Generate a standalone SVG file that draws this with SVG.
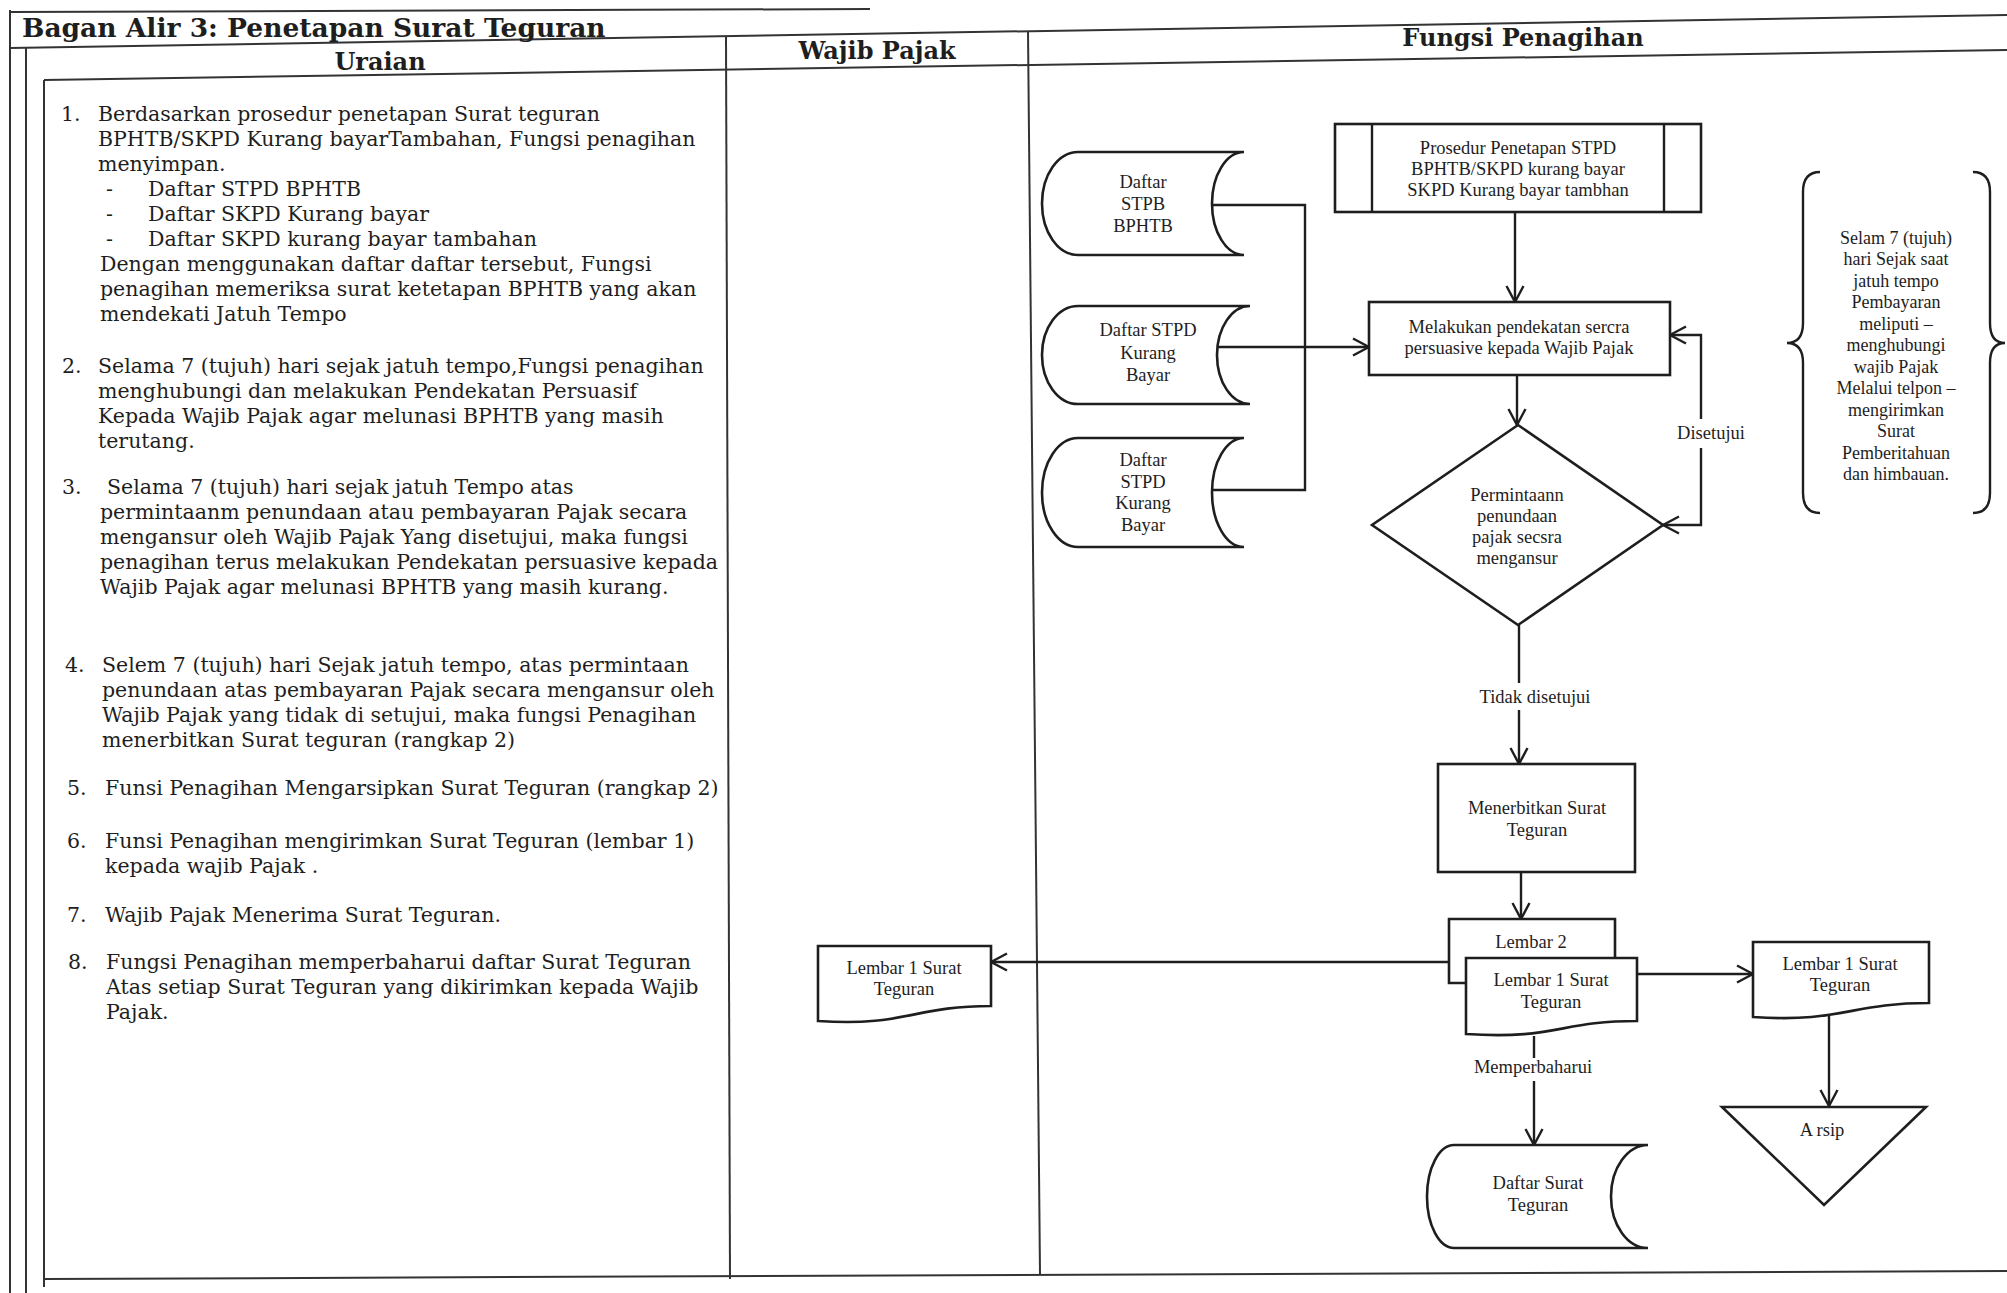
<svg xmlns="http://www.w3.org/2000/svg" width="2007" height="1293" viewBox="0 0 2007 1293">
<style>
.frame{stroke:#333;stroke-width:2;fill:none}
.hdr{font-family:"DejaVu Serif","Liberation Serif",serif;font-weight:bold;font-size:24px;fill:#1e1e1e}
.title{font-size:26.5px}
.body{font-family:"DejaVu Serif","Liberation Serif",serif;font-size:20.5px;fill:#1e1e1e}
.shape{fill:#fff;stroke:#1e1e1e;stroke-width:2.6}
.lbl{font-family:"Liberation Serif","Times New Roman",serif;font-size:18.5px;fill:#1e1e1e;text-anchor:middle}
.note{font-size:18px}
.conn{fill:none;stroke:#1e1e1e;stroke-width:2.4}
</style>
<defs>
<marker id="arr" viewBox="0 0 20 20" refX="18" refY="10" markerWidth="20" markerHeight="20" markerUnits="userSpaceOnUse" orient="auto">
<path d="M2,1.5 L18,10 L2,18.5" fill="none" stroke="#1e1e1e" stroke-width="2.4"/>
</marker>
</defs>
<rect width="2007" height="1293" fill="#fff"/>

<g id="frame">
<line class="frame" x1="10" y1="12" x2="870" y2="9"/>
<line class="frame" x1="10" y1="48" x2="2007" y2="15"/>
<line class="frame" x1="44" y1="80" x2="2007" y2="50"/>
<line class="frame" x1="10" y1="10" x2="10" y2="1293"/>
<line class="frame" x1="26" y1="48" x2="26" y2="1293"/>
<line class="frame" x1="44" y1="80" x2="44" y2="1287"/>
<line class="frame" x1="726" y1="37" x2="730" y2="1279"/>
<line class="frame" x1="1028" y1="31" x2="1040" y2="1274"/>
<line class="frame" x1="44" y1="1279" x2="2007" y2="1271"/>
<text class="hdr title" x="22" y="37">Bagan Alir 3: Penetapan Surat Teguran</text>
<text class="hdr" x="380" y="70" text-anchor="middle">Uraian</text>
<text class="hdr" x="877" y="59" text-anchor="middle">Wajib Pajak</text>
<text class="hdr" x="1523" y="46" text-anchor="middle">Fungsi Penagihan</text>
</g>

<g id="uraian" class="body">
<text x="61" y="121">1.</text>
<text x="98" y="121">Berdasarkan prosedur penetapan Surat teguran</text>
<text x="98" y="146">BPHTB/SKPD Kurang bayarTambahan, Fungsi penagihan</text>
<text x="98" y="171">menyimpan.</text>
<text x="106" y="196">-</text><text x="148" y="196">Daftar STPD BPHTB</text>
<text x="106" y="221">-</text><text x="148" y="221">Daftar SKPD Kurang bayar</text>
<text x="106" y="246">-</text><text x="148" y="246">Daftar SKPD kurang bayar tambahan</text>
<text x="100" y="271">Dengan menggunakan daftar daftar tersebut, Fungsi</text>
<text x="100" y="296">penagihan memeriksa surat ketetapan BPHTB yang akan</text>
<text x="100" y="321">mendekati Jatuh Tempo</text>

<text x="62" y="373">2.</text>
<text x="98" y="373">Selama 7 (tujuh) hari sejak jatuh tempo,Fungsi penagihan</text>
<text x="98" y="398">menghubungi dan melakukan Pendekatan Persuasif</text>
<text x="98" y="423">Kepada Wajib Pajak agar melunasi BPHTB yang masih</text>
<text x="98" y="448">terutang.</text>

<text x="62" y="494">3.</text>
<text x="107" y="494">Selama  7 (tujuh) hari sejak jatuh Tempo atas</text>
<text x="100" y="519">permintaanm penundaan atau pembayaran Pajak secara</text>
<text x="100" y="544">mengansur oleh Wajib Pajak Yang disetujui, maka fungsi</text>
<text x="100" y="569">penagihan terus melakukan Pendekatan persuasive kepada</text>
<text x="100" y="594">Wajib Pajak agar melunasi BPHTB yang masih kurang.</text>

<text x="65" y="672">4.</text>
<text x="102" y="672">Selem 7 (tujuh) hari Sejak jatuh tempo, atas permintaan</text>
<text x="102" y="697">penundaan atas pembayaran Pajak secara mengansur oleh</text>
<text x="102" y="722">Wajib Pajak yang tidak di setujui, maka fungsi Penagihan</text>
<text x="102" y="747">menerbitkan Surat teguran (rangkap 2)</text>

<text x="67" y="795">5.</text>
<text x="105" y="795">Funsi Penagihan Mengarsipkan Surat Teguran (rangkap 2)</text>

<text x="67" y="848">6.</text>
<text x="105" y="848">Funsi Penagihan mengirimkan Surat  Teguran (lembar 1)</text>
<text x="105" y="873">kepada wajib Pajak .</text>

<text x="67" y="922">7.</text>
<text x="105" y="922">Wajib Pajak Menerima Surat Teguran.</text>

<text x="68" y="969">8.</text>
<text x="106" y="969">Fungsi Penagihan memperbaharui daftar Surat Teguran</text>
<text x="106" y="994">Atas setiap Surat Teguran yang dikirimkan kepada Wajib</text>
<text x="106" y="1019">Pajak.</text>
</g>

<g id="connectors">
<path class="conn" d="M1212,205 H1305 V490 H1212"/>
<path class="conn" d="M1216,347 H1369" marker-end="url(#arr)"/>
<path class="conn" d="M1515,212 V302" marker-end="url(#arr)"/>
<path class="conn" d="M1517,375 V425" marker-end="url(#arr)"/>
<path class="conn" d="M1701,419 V335 H1670" marker-end="url(#arr)"/>
<path class="conn" d="M1701,448 V525 H1663" marker-end="url(#arr)"/>
<path class="conn" d="M1519,625 V683"/>
<path class="conn" d="M1519,710 V764" marker-end="url(#arr)"/>
<path class="conn" d="M1521,872 V919" marker-end="url(#arr)"/>
<path class="conn" d="M1449,962 H991" marker-end="url(#arr)"/>
<path class="conn" d="M1637,974 H1753" marker-end="url(#arr)"/>
<path class="conn" d="M1829,1016 V1106" marker-end="url(#arr)"/>
<path class="conn" d="M1534,1036 V1058"/>
<path class="conn" d="M1534,1081 V1145" marker-end="url(#arr)"/>
<text class="lbl" x="1711" y="439">Disetujui</text>
<text class="lbl" x="1535" y="703">Tidak disetujui</text>
<text class="lbl" x="1533" y="1073">Memperbaharui</text>
</g>

<g id="daftar-stpb-bphtb">
<path class="shape" d="M1078,152 H1244 A32,51.5 0 0 0 1244,255 H1078 A36,51.5 0 0 1 1078,152 Z"/>
<text class="lbl" x="1143" y="188">Daftar</text>
<text class="lbl" x="1143" y="210">STPB</text>
<text class="lbl" x="1143" y="232">BPHTB</text>
</g>

<g id="daftar-stpd-kurang-bayar">
<path class="shape" d="M1078,306 H1250 A33,49 0 0 0 1250,404 H1078 A36,49 0 0 1 1078,306 Z"/>
<text class="lbl" x="1148" y="336">Daftar STPD</text>
<text class="lbl" x="1148" y="359">Kurang</text>
<text class="lbl" x="1148" y="381">Bayar</text>
</g>

<g id="daftar-stpd-kurang-bayar-2">
<path class="shape" d="M1078,438 H1244 A32,54.5 0 0 0 1244,547 H1078 A36,54.5 0 0 1 1078,438 Z"/>
<text class="lbl" x="1143" y="466">Daftar</text>
<text class="lbl" x="1143" y="488">STPD</text>
<text class="lbl" x="1143" y="509">Kurang</text>
<text class="lbl" x="1143" y="531">Bayar</text>
</g>

<g id="prosedur">
<rect class="shape" x="1335" y="124" width="366" height="88"/>
<line class="conn" x1="1372" y1="124" x2="1372" y2="212"/>
<line class="conn" x1="1664" y1="124" x2="1664" y2="212"/>
<text class="lbl" x="1518" y="154">Prosedur Penetapan STPD</text>
<text class="lbl" x="1518" y="175">BPHTB/SKPD kurang bayar</text>
<text class="lbl" x="1518" y="196">SKPD Kurang bayar tambhan</text>
</g>

<g id="melakukan">
<rect class="shape" x="1369" y="302" width="301" height="73"/>
<text class="lbl" x="1519" y="333">Melakukan pendekatan sercra</text>
<text class="lbl" x="1519" y="354">persuasive kepada Wajib Pajak</text>
</g>

<g id="permintaan">
<polygon class="shape" points="1518,425 1663,525 1518,625 1372,525"/>
<text class="lbl" x="1517" y="501">Permintaann</text>
<text class="lbl" x="1517" y="522">penundaan</text>
<text class="lbl" x="1517" y="543">pajak secsra</text>
<text class="lbl" x="1517" y="564">mengansur</text>
</g>

<g id="keterangan">
<path class="conn" d="M1820,172 Q1803,172 1803,192 V323 Q1803,343 1787,343 Q1803,343 1803,363 V493 Q1803,513 1820,513"/>
<path class="conn" d="M1973,172 Q1990,172 1990,192 V323 Q1990,343 2005,343 Q1990,343 1990,363 V493 Q1990,513 1973,513"/>
<text class="lbl note" x="1896" y="244">Selam 7 (tujuh)</text>
<text class="lbl note" x="1896" y="265">hari Sejak saat</text>
<text class="lbl note" x="1896" y="287">jatuh tempo</text>
<text class="lbl note" x="1896" y="308">Pembayaran</text>
<text class="lbl note" x="1896" y="330">meliputi –</text>
<text class="lbl note" x="1896" y="351">menghubungi</text>
<text class="lbl note" x="1896" y="373">wajib Pajak</text>
<text class="lbl note" x="1896" y="394">Melalui telpon –</text>
<text class="lbl note" x="1896" y="416">mengirimkan</text>
<text class="lbl note" x="1896" y="437">Surat</text>
<text class="lbl note" x="1896" y="459">Pemberitahuan</text>
<text class="lbl note" x="1896" y="480">dan himbauan.</text>
</g>

<g id="menerbitkan">
<rect class="shape" x="1438" y="764" width="197" height="108"/>
<text class="lbl" x="1537" y="814">Menerbitkan Surat</text>
<text class="lbl" x="1537" y="836">Teguran</text>
</g>

<g id="surat-teguran-rangkap">
<path class="shape" d="M1466,983 H1449 V919 H1615 V958"/>
<text class="lbl" x="1531" y="948">Lembar 2</text>
<path class="shape" d="M1466,958 H1637 V1021 C1560,1021 1555,1040 1466,1034 Z"/>
<text class="lbl" x="1551" y="986">Lembar 1 Surat</text>
<text class="lbl" x="1551" y="1008">Teguran</text>
</g>

<g id="lembar1-wajib-pajak">
<path class="shape" d="M818,946 H991 V1006 C913,1006 905,1027 818,1021 Z"/>
<text class="lbl" x="904" y="974">Lembar 1 Surat</text>
<text class="lbl" x="904" y="995">Teguran</text>
</g>

<g id="lembar1-arsip">
<path class="shape" d="M1753,942 H1929 V1003 C1850,1003 1842,1023 1753,1017 Z"/>
<text class="lbl" x="1840" y="970">Lembar 1 Surat</text>
<text class="lbl" x="1840" y="991">Teguran</text>
</g>

<g id="arsip">
<polygon class="shape" points="1722,1107 1926,1107 1824,1205"/>
<text class="lbl" x="1822" y="1136">A rsip</text>
</g>

<g id="daftar-surat-teguran">
<path class="shape" d="M1454,1145 H1648 A37,51.5 0 0 0 1648,1248 H1454 A27,51.5 0 0 1 1454,1145 Z"/>
<text class="lbl" x="1538" y="1189">Daftar Surat</text>
<text class="lbl" x="1538" y="1211">Teguran</text>
</g>
</svg>
